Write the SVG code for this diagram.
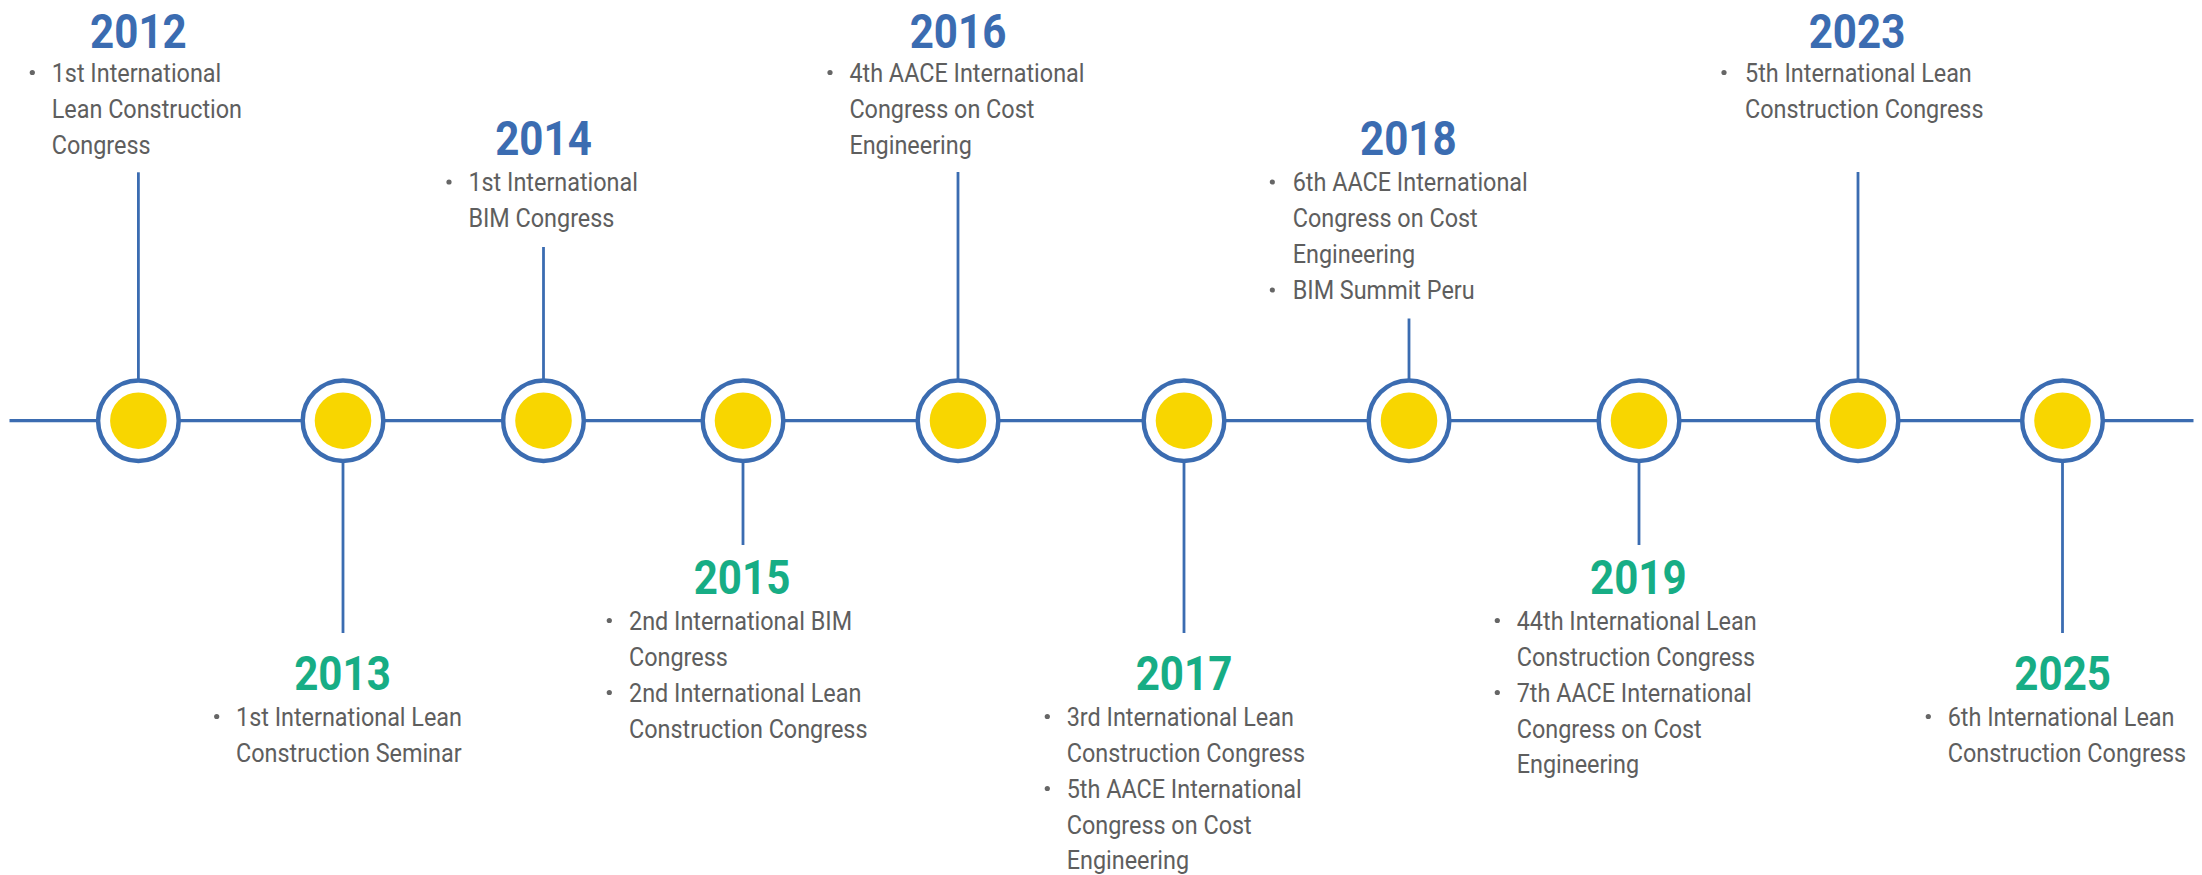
<svg xmlns="http://www.w3.org/2000/svg" width="2202" height="875" viewBox="0 0 2202 875">
<style>
.ln{stroke:#3b6cb1;stroke-width:2.8;fill:none}
.hl{stroke:#3b6cb1;stroke-width:3.2;fill:none}
.ring{fill:#fff;stroke:#3b6cb1;stroke-width:4.5}
.dot{fill:#f8d600}
.yr{font-family:Roboto,"Liberation Sans",sans-serif;font-weight:700;font-size:49px;text-anchor:middle}
.b{fill:#3b6cb1}
.g{fill:#17ad85}
.tx{font-family:Roboto,"Liberation Sans",sans-serif;font-size:26px;fill:#5e5e5e}
.bu{fill:#666666}
</style>
<g id="connectors">
<line class="hl" x1="9.5" y1="420.7" x2="2193.5" y2="420.7"/>
<line class="ln" x1="138.4" y1="172.3" x2="138.4" y2="380"/>
<line class="ln" x1="343" y1="461" x2="343" y2="633"/>
<line class="ln" x1="543.5" y1="247" x2="543.5" y2="380"/>
<line class="ln" x1="743" y1="461" x2="743" y2="545"/>
<line class="ln" x1="958" y1="172" x2="958" y2="380"/>
<line class="ln" x1="1184" y1="461" x2="1184" y2="633"/>
<line class="ln" x1="1409" y1="318.5" x2="1409" y2="380"/>
<line class="ln" x1="1639" y1="461" x2="1639" y2="545"/>
<line class="ln" x1="1858" y1="172" x2="1858" y2="380"/>
<line class="ln" x1="2062.5" y1="461" x2="2062.5" y2="633"/>
</g>
<g id="n2012">
<circle class="ring" cx="138.4" cy="420.7" r="40.3"/><circle class="dot" cx="138.4" cy="420.7" r="28.3"/>
<text class="yr b" transform="translate(138.4 48) scale(0.86 1)">2012</text>
<circle class="bu" cx="32.3" cy="72.5" r="2.6"/>
<text class="tx" transform="translate(51.7 0) scale(0.9 1)"><tspan x="0" y="82">1st International</tspan><tspan x="0" y="118">Lean Construction</tspan><tspan x="0" y="154">Congress</tspan></text>
</g>
<g id="n2013">
<circle class="ring" cx="343" cy="420.7" r="40.3"/><circle class="dot" cx="343" cy="420.7" r="28.3"/>
<text class="yr g" transform="translate(342.5 690) scale(0.86 1)">2013</text>
<circle class="bu" cx="216.7" cy="716.5" r="2.6"/>
<text class="tx" transform="translate(236 0) scale(0.9 1)"><tspan x="0" y="726">1st International Lean</tspan><tspan x="0" y="762">Construction Seminar</tspan></text>
</g>
<g id="n2014">
<circle class="ring" cx="543.5" cy="420.7" r="40.3"/><circle class="dot" cx="543.5" cy="420.7" r="28.3"/>
<text class="yr b" transform="translate(543.5 155) scale(0.86 1)">2014</text>
<circle class="bu" cx="449" cy="182" r="2.6"/>
<text class="tx" transform="translate(468.4 0) scale(0.9 1)"><tspan x="0" y="191.5">1st International</tspan><tspan x="0" y="227.5">BIM Congress</tspan></text>
</g>
<g id="n2015">
<circle class="ring" cx="743" cy="420.7" r="40.3"/><circle class="dot" cx="743" cy="420.7" r="28.3"/>
<text class="yr g" transform="translate(742 594) scale(0.86 1)">2015</text>
<circle class="bu" cx="609.3" cy="620.5" r="2.6"/>
<circle class="bu" cx="609.3" cy="692.5" r="2.6"/>
<text class="tx" transform="translate(629 0) scale(0.9 1)"><tspan x="0" y="630">2nd International BIM</tspan><tspan x="0" y="666">Congress</tspan><tspan x="0" y="702">2nd International Lean</tspan><tspan x="0" y="738">Construction Congress</tspan></text>
</g>
<g id="n2016">
<circle class="ring" cx="958" cy="420.7" r="40.3"/><circle class="dot" cx="958" cy="420.7" r="28.3"/>
<text class="yr b" transform="translate(958 48) scale(0.86 1)">2016</text>
<circle class="bu" cx="830" cy="72.5" r="2.6"/>
<text class="tx" transform="translate(849.4 0) scale(0.9 1)"><tspan x="0" y="82">4th AACE International</tspan><tspan x="0" y="118">Congress on Cost</tspan><tspan x="0" y="154">Engineering</tspan></text>
</g>
<g id="n2017">
<circle class="ring" cx="1184" cy="420.7" r="40.3"/><circle class="dot" cx="1184" cy="420.7" r="28.3"/>
<text class="yr g" transform="translate(1184 690) scale(0.86 1)">2017</text>
<circle class="bu" cx="1047.3" cy="716.5" r="2.6"/>
<circle class="bu" cx="1047.3" cy="788.5" r="2.6"/>
<text class="tx" transform="translate(1066.7 0) scale(0.9 1)"><tspan x="0" y="726">3rd International Lean</tspan><tspan x="0" y="762">Construction Congress</tspan><tspan x="0" y="798">5th AACE International</tspan><tspan x="0" y="834">Congress on Cost</tspan><tspan x="0" y="869">Engineering</tspan></text>
</g>
<g id="n2018">
<circle class="ring" cx="1409" cy="420.7" r="40.3"/><circle class="dot" cx="1409" cy="420.7" r="28.3"/>
<text class="yr b" transform="translate(1408.3 155) scale(0.86 1)">2018</text>
<circle class="bu" cx="1272.3" cy="182" r="2.6"/>
<circle class="bu" cx="1272.3" cy="290" r="2.6"/>
<text class="tx" transform="translate(1292.7 0) scale(0.9 1)"><tspan x="0" y="191.5">6th AACE International</tspan><tspan x="0" y="227.5">Congress on Cost</tspan><tspan x="0" y="263.5">Engineering</tspan><tspan x="0" y="299.5">BIM Summit Peru</tspan></text>
</g>
<g id="n2019">
<circle class="ring" cx="1639" cy="420.7" r="40.3"/><circle class="dot" cx="1639" cy="420.7" r="28.3"/>
<text class="yr g" transform="translate(1638.3 594) scale(0.86 1)">2019</text>
<circle class="bu" cx="1497.3" cy="620.5" r="2.6"/>
<circle class="bu" cx="1497.3" cy="692.5" r="2.6"/>
<text class="tx" transform="translate(1516.7 0) scale(0.9 1)"><tspan x="0" y="630">44th International Lean</tspan><tspan x="0" y="666">Construction Congress</tspan><tspan x="0" y="702">7th AACE International</tspan><tspan x="0" y="738">Congress on Cost</tspan><tspan x="0" y="773">Engineering</tspan></text>
</g>
<g id="n2023">
<circle class="ring" cx="1858" cy="420.7" r="40.3"/><circle class="dot" cx="1858" cy="420.7" r="28.3"/>
<text class="yr b" transform="translate(1857 48) scale(0.86 1)">2023</text>
<circle class="bu" cx="1724" cy="72.5" r="2.6"/>
<text class="tx" transform="translate(1745 0) scale(0.9 1)"><tspan x="0" y="82">5th International Lean</tspan><tspan x="0" y="118">Construction Congress</tspan></text>
</g>
<g id="n2025">
<circle class="ring" cx="2062.5" cy="420.7" r="40.3"/><circle class="dot" cx="2062.5" cy="420.7" r="28.3"/>
<text class="yr g" transform="translate(2062.7 690) scale(0.86 1)">2025</text>
<circle class="bu" cx="1928.3" cy="716.5" r="2.6"/>
<text class="tx" transform="translate(1947.7 0) scale(0.9 1)"><tspan x="0" y="726">6th International Lean</tspan><tspan x="0" y="762">Construction Congress</tspan></text>
</g>
</svg>
